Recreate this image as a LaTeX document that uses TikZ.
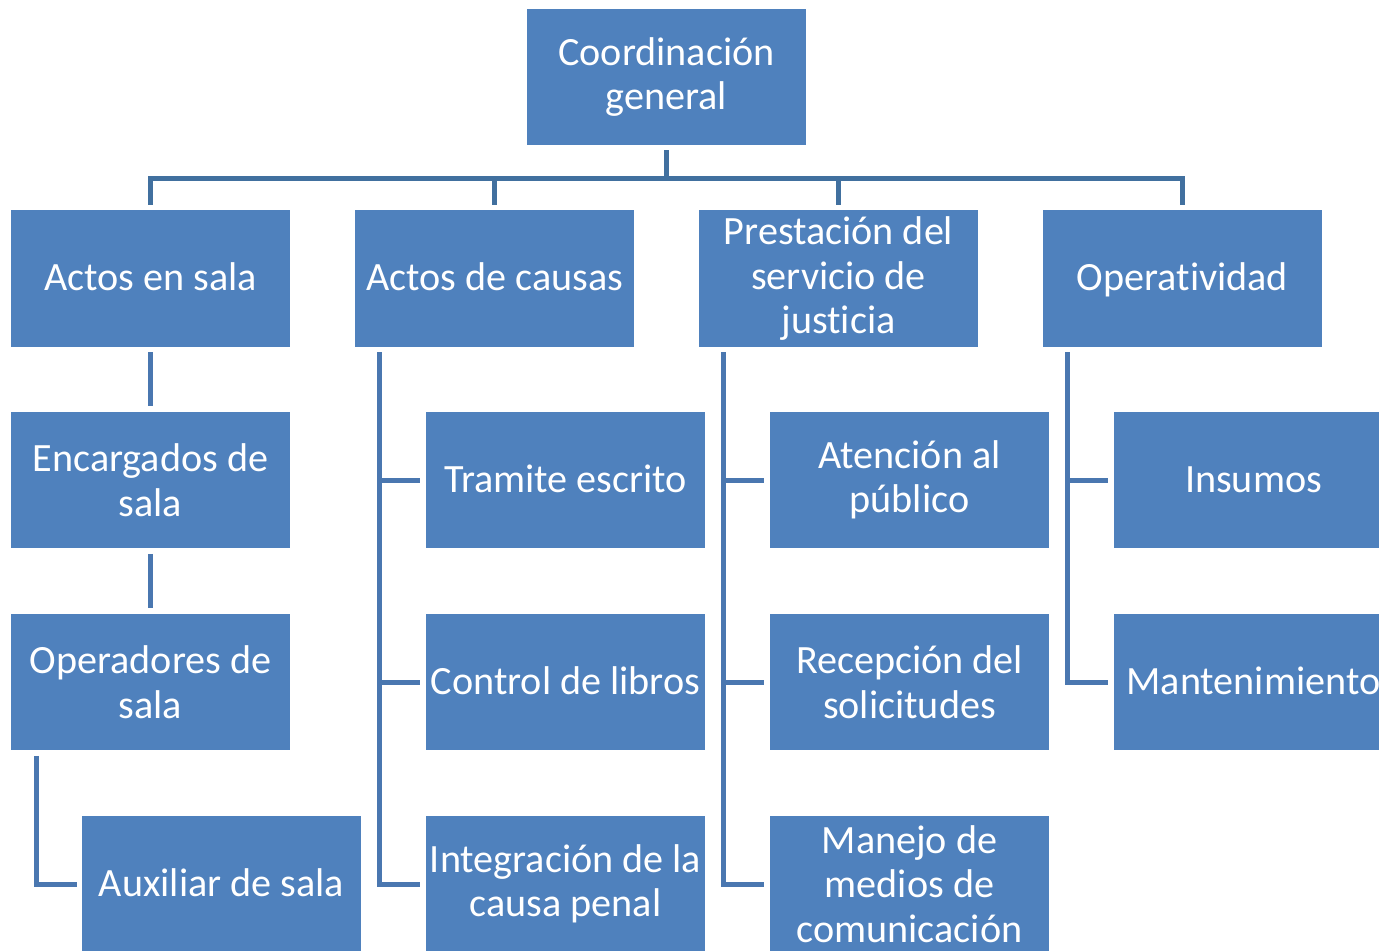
\documentclass[tikz,border=0pt]{standalone}
\usepackage{fontspec}
\setmainfont{Carlito}[Ligatures = NoCommon]
\usepackage{tikz}
\usetikzlibrary{calc}
\definecolor{boxblue}{HTML}{4F81BD}
\definecolor{linkblue}{HTML}{4A77B0}
\definecolor{busblue}{HTML}{41709F}

\begin{document}
\begin{tikzpicture}[x = 0.02cm, y = -0.02cm,
  box/.style = {fill = boxblue, text = white, minimum width = 5.58cm, minimum height = 2.74cm,
    inner sep = 0pt, align = center, font = \fontsize{22.85}{25.3}\selectfont},
  solo/.style = {box, execute at begin node = {\rule{0pt}{21.5pt}},
    execute at end node = {\rule[-7.3pt]{0pt}{7.3pt}}},
  link/.style = {line width = 0.1cm, color = linkblue},
  bus/.style = {link, color = busblue}]
\path[use as bounding box, clip] (0, 0) rectangle (1379, 950);
\node (coord) at (666.5, 77) [box, minimum height = 2.72cm] {Coordinación\\general};
\node (sala) at (150.5, 278.5) [solo] {Actos en sala};
\node (causas) at (494.5, 278.5) [solo] {Actos de causas};
\node (prest) at (838.5, 278.5) [box] {Prestación del\\servicio de\\justicia};
\node (oper) at (1182.5, 278.5) [solo] {Operatividad};
\node (encarg) at (150.5, 480) [box] {Encargados de\\sala};
\node (operad) at (150.5, 682) [box] {Operadores de\\sala};
\node (auxil) at (221.5, 884) [solo] {Auxiliar de sala};
\node (tramite) at (565.5, 480) [solo] {Tramite escrito};
\node (libros) at (565.5, 682) [solo] {Control de libros};
\node (integ) at (565.5, 884) [box] {Integración de la\\causa penal};
\node (atenc) at (909.5, 480) [box] {Atención al\\público};
\node (recep) at (909.5, 682) [box] {Recepción del\\solicitudes};
\node (manejo) at (909.5, 884) [box] {Manejo de\\medios de\\comunicación};
\node (insumos) at (1253.5, 480) [solo] {Insumos};
\node (mant) at (1253.5, 682) [solo] {Mantenimiento};
% top level
\coordinate (hub) at (666.5, 178);
\draw[bus] ($(coord.south)+(0, 5)$) -- (hub);
\draw[bus] ($(sala.north)+(0, -5)$) |- (hub) -| ($(oper.north)+(0, -5)$);
\draw[bus] ($(causas.north)+(0, -5)$) -- (causas.north |- hub);
\draw[bus] ($(prest.north)+(0, -5)$) -- (prest.north |- hub);
% actos en sala
\draw[link] ($(sala.south)+(0, 5)$) -- ($(encarg.north)+(0, -5)$);
\draw[link] ($(encarg.south)+(0, 5)$) -- ($(operad.north)+(0, -5)$);
\draw[link] ($(operad.south west)+(26, 5)$) |- ($(auxil.west)+(-5, 0)$);
% actos de causas
\draw[link] ($(causas.south west)+(25, 5)$) |- ($(tramite.west)+(-6, 0)$);
\draw[link] ($(causas.south west)+(25, 5)$) |- ($(libros.west)+(-6, 0)$);
\draw[link] ($(causas.south west)+(25, 5)$) |- ($(integ.west)+(-6, 0)$);
% prestacion
\draw[link] ($(prest.south west)+(25, 5)$) |- ($(atenc.west)+(-6, 0)$);
\draw[link] ($(prest.south west)+(25, 5)$) |- ($(recep.west)+(-6, 0)$);
\draw[link] ($(prest.south west)+(25, 5)$) |- ($(manejo.west)+(-6, 0)$);
% operatividad
\draw[link] ($(oper.south west)+(25, 5)$) |- ($(insumos.west)+(-6, 0)$);
\draw[link] ($(oper.south west)+(25, 5)$) |- ($(mant.west)+(-6, 0)$);
\end{tikzpicture}
\end{document}
